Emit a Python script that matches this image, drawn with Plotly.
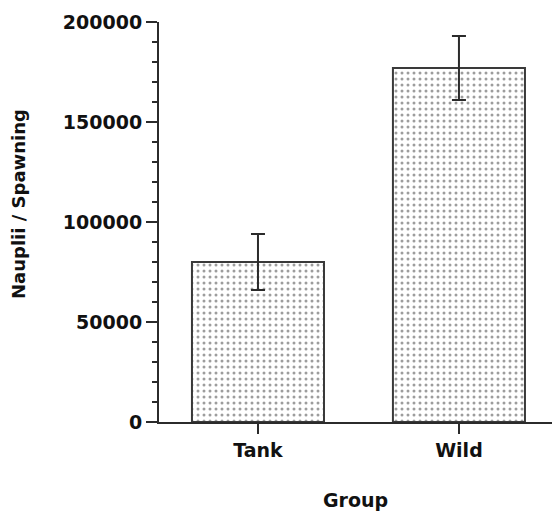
import plotly.graph_objects as go

# Group means with their standard deviations
groups = ["Tank", "Wild"]
nauplii_mean = [80000, 177000]
nauplii_sd = [14000, 16000]

y_tick_values = [0, 50000, 100000, 150000, 200000]
y_tick_labels = ["0", "50000", "100000", "150000", "200000"]

ink = "#2b2b2b"
font_family = "DejaVu Sans"

fig = go.Figure(
    go.Bar(
        x=groups,
        y=nauplii_mean,
        width=0.657,
        marker=dict(
            color="white",
            line=dict(color="#3a3a3a", width=2),
            pattern=dict(shape=".", size=6, solidity=0.2,
                         fgcolor="#3c3c3c", bgcolor="white"),
        ),
        error_y=dict(type="data", array=nauplii_sd, visible=True,
                     color=ink, thickness=2, width=7),
    )
)

fig.update_layout(
    width=552,
    height=515,
    margin=dict(l=159, r=0, t=22, b=93),
    paper_bgcolor="white",
    plot_bgcolor="white",
    showlegend=False,
    font=dict(family=font_family, size=19, color="#111111", weight="bold"),
    xaxis=dict(
        range=[-0.4925, 1.463],
        showline=True, linecolor=ink, linewidth=2,
        ticks="outside", ticklen=10, tickwidth=2, tickcolor=ink,
        showgrid=False, zeroline=False,
        tickfont=dict(family=font_family, size=19, weight="bold"),
    ),
    yaxis=dict(
        range=[0, 200000],
        tickmode="array", tickvals=y_tick_values, ticktext=y_tick_labels,
        showline=True, linecolor=ink, linewidth=2,
        ticks="outside", ticklen=11, tickwidth=2, tickcolor=ink,
        minor=dict(dtick=10000, ticks="outside", ticklen=5,
                   tickwidth=2, tickcolor=ink, showgrid=False),
        showgrid=False, zeroline=False,
        tickfont=dict(family=font_family, size=19, weight="bold"),
    ),
)

# Axis titles
fig.add_annotation(
    text="Nauplii / Spawning", textangle=-90,
    xref="paper", yref="paper", x=0, y=0.545,
    xanchor="center", yanchor="middle", xshift=-140,
    showarrow=False,
    font=dict(family=font_family, size=18, weight="bold", color="#111111"),
)
fig.add_annotation(
    text="Group",
    xref="paper", yref="paper", x=0.5, y=-0.195,
    xanchor="center", yanchor="middle",
    showarrow=False,
    font=dict(family=font_family, size=19, weight="bold", color="#111111"),
)

fig.write_html("out.html")
